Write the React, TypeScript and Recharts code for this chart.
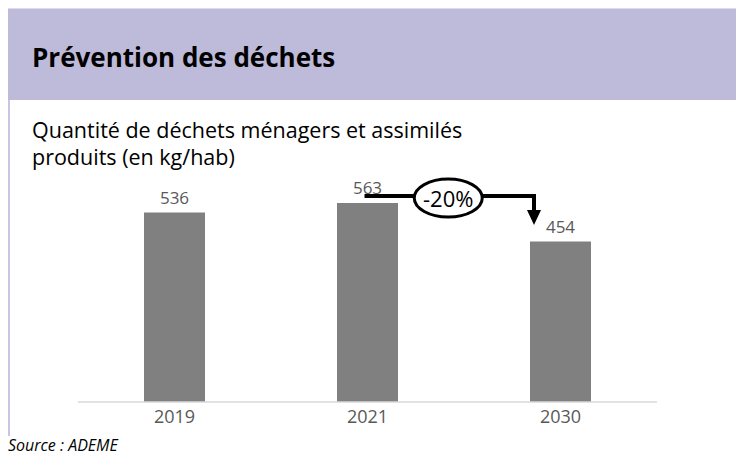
import { BarChart, Bar, XAxis, YAxis, LabelList } from 'recharts'

const years = ['2019', '2021', '2030']
const wasteKgPerHab = [536, 563, 454]
const reductionLabel = '-20%'

const data = years.map((year, i) => ({ year, value: wasteKgPerHab[i] }))

const CHART_W = 736
const MARGIN_L = 70
const MARGIN_R = 87
const band = (CHART_W - MARGIN_L - MARGIN_R) / years.length

const font = '"Open Sans", "Noto Sans", sans-serif'

// arrow from the 2021 bar towards the 2030 bar, with the -20% bubble
function ReductionArrow(props: any) {
  const { x, y, width, index } = props
  if (index !== 1) return null
  const sx = x + width / 2 - 3
  const sy = y - 7
  const ex = x + band + 4
  const tipY = sy + 29
  const cx = (sx + ex) / 2 - 1
  return (
    <g>
      <polyline
        points={`${sx},${sy} ${ex},${sy} ${ex},${tipY - 13}`}
        fill="none"
        stroke="#000"
        strokeWidth={4}
      />
      <polygon points={`${ex - 7},${tipY - 15} ${ex + 7},${tipY - 15} ${ex},${tipY}`} fill="#000" />
      <ellipse cx={cx} cy={sy + 2} rx={34} ry={19} fill="#fff" stroke="#000" strokeWidth={3} />
      <text
        x={cx}
        y={sy + 2}
        textAnchor="middle"
        dominantBaseline="central"
        fontSize={22}
        fontFamily={font}
        fill="#000"
      >
        {reductionLabel}
      </text>
    </g>
  )
}

export default function App() {
  return (
    <div style={{ position: 'relative', width: 736, height: 446, fontFamily: font, background: '#fff' }}>
      <div
        style={{
          position: 'absolute',
          left: 0,
          top: 0,
          width: 736,
          height: 92,
          background: '#BEBAD9',
          borderTop: '1px solid #dcdaee',
          boxSizing: 'border-box',
        }}
      />
      <div style={{ position: 'absolute', left: 0, top: 92, width: 1.5, height: 336, background: '#c9c6e3' }} />
      <div
        style={{
          position: 'absolute',
          left: 24,
          top: 33,
          fontSize: 26,
          fontWeight: 700,
          color: '#000',
          lineHeight: '32px',
          whiteSpace: 'nowrap',
        }}
      >
        Prévention des déchets
      </div>
      <div
        style={{
          position: 'absolute',
          left: 24,
          top: 108,
          fontSize: 21.5,
          color: '#000',
          lineHeight: '27px',
          width: 520,
        }}
      >
        <div>Quantité de déchets ménagers et assimilés</div>
        <div>produits (en kg/hab)</div>
      </div>
      <div style={{ position: 'absolute', left: 0, top: 162 }}>
        <BarChart
          width={CHART_W}
          height={270}
          data={data}
          margin={{ top: 20, right: MARGIN_R, bottom: 0, left: MARGIN_L }}
        >
          <XAxis
            dataKey="year"
            height={38}
            axisLine={{ stroke: '#d9d9d9', strokeWidth: 1.5 }}
            tickLine={false}
            tick={{ fill: '#595959', fontSize: 18, fontFamily: font }}
          />
          <YAxis hide domain={[0, 600]} />
          <Bar dataKey="value" fill="#808080" barSize={61} isAnimationActive={false}>
            <LabelList
              dataKey="value"
              position="top"
              offset={9}
              fill="#595959"
              fontSize={17}
              fontFamily={font}
            />
            <LabelList dataKey="value" content={ReductionArrow} />
          </Bar>
        </BarChart>
      </div>
      <div
        style={{
          position: 'absolute',
          left: 0,
          top: 428,
          fontSize: 16,
          fontStyle: 'italic',
          color: '#000',
          lineHeight: '18px',
          whiteSpace: 'nowrap',
        }}
      >
        Source : ADEME
      </div>
    </div>
  )
}
